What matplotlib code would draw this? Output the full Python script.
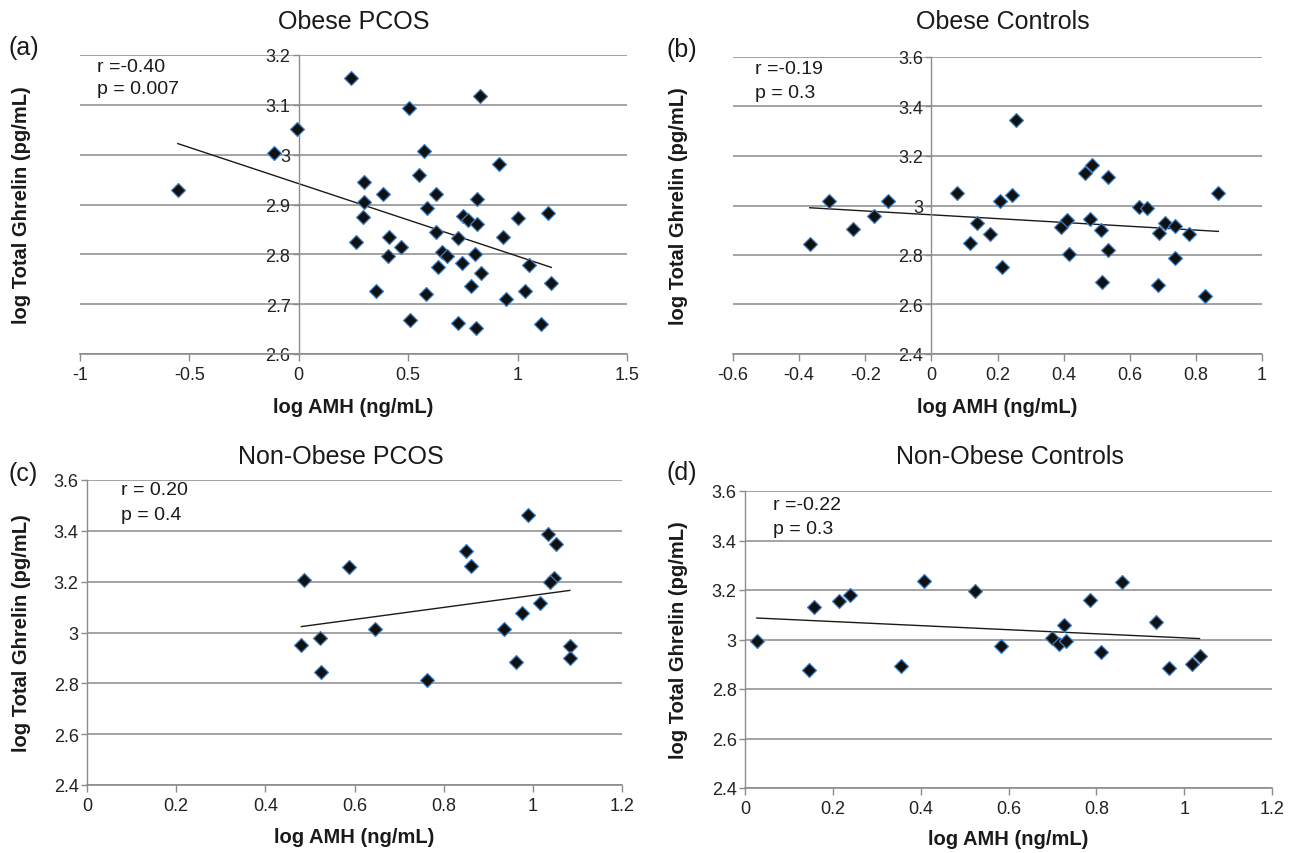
import numpy as np
import matplotlib
matplotlib.use("Agg")
import matplotlib.pyplot as plt
from matplotlib.ticker import FuncFormatter, MultipleLocator

plt.rcParams['font.family'] = ['Liberation Sans', 'DejaVu Sans']

# ---------------- data ----------------
titles = ["Obese PCOS", "Obese Controls", "Non-Obese PCOS", "Non-Obese Controls"]
panel_tags = ["(a)", "(b)", "(c)", "(d)"]
stats_r = ["r =-0.40", "r =-0.19", "r = 0.20", "r =-0.22"]
stats_p = ["p = 0.007", "p = 0.3", "p = 0.4", "p = 0.3"]
x_label = "log AMH (ng/mL)"
y_label = "log Total Ghrelin (pg/mL)"

a_x = [-0.553, -0.115, -0.007, 0.240, 0.503, 0.826, 0.572, 0.914, 0.549, 0.300,
       0.387, 0.629, 0.815, 0.298, 0.585, 1.139, 0.749, 0.775, 0.815, 1.000,
       0.292, 0.625, 0.411, 0.933, 0.726, 0.263, 0.465, 0.655, 0.678, 0.804,
       0.406, 0.745, 1.053, 0.638, 0.832, 1.154, 0.785, 0.351, 1.034, 0.583,
       0.947, 0.507, 0.728, 0.811, 1.106]
a_y = [2.930, 3.003, 3.051, 3.154, 3.093, 3.117, 3.007, 2.981, 2.959, 2.946,
       2.921, 2.922, 2.911, 2.906, 2.892, 2.882, 2.877, 2.868, 2.861, 2.873,
       2.875, 2.845, 2.835, 2.835, 2.832, 2.825, 2.814, 2.804, 2.796, 2.800,
       2.796, 2.782, 2.778, 2.774, 2.763, 2.742, 2.736, 2.726, 2.727, 2.720,
       2.710, 2.668, 2.662, 2.652, 2.660]

b_x = [-0.368, -0.310, -0.237, -0.175, -0.130, 0.078, 0.116, 0.138, 0.178, 0.208,
       0.213, 0.245, 0.255, 0.392, 0.410, 0.417, 0.466, 0.485, 0.480, 0.514,
       0.515, 0.535, 0.535, 0.629, 0.653, 0.689, 0.684, 0.708, 0.736, 0.736,
       0.778, 0.827, 0.868]
b_y = [2.846, 3.019, 2.904, 2.959, 3.020, 3.049, 2.847, 2.931, 2.886, 3.020,
       2.750, 3.042, 3.346, 2.914, 2.943, 2.804, 3.132, 3.165, 2.947, 2.903,
       2.691, 3.115, 2.822, 2.992, 2.989, 2.888, 2.680, 2.931, 2.918, 2.788,
       2.886, 2.635, 3.051]

c_x = [0.486, 0.481, 0.522, 0.524, 0.587, 0.646, 0.763, 0.850, 0.862, 0.936,
       0.963, 0.975, 0.990, 1.016, 1.033, 1.052, 1.048, 1.038, 1.083, 1.083]
c_y = [3.207, 2.952, 2.979, 2.844, 3.258, 3.014, 2.815, 3.319, 3.260, 3.014,
       2.884, 3.075, 3.461, 3.117, 3.389, 3.349, 3.215, 3.198, 2.948, 2.898]

d_x = [0.027, 0.146, 0.157, 0.215, 0.238, 0.356, 0.407, 0.524, 0.582, 0.698,
       0.714, 0.726, 0.731, 0.786, 0.811, 0.859, 0.936, 0.965, 1.018, 1.035]
d_y = [2.992, 2.876, 3.132, 3.157, 3.179, 2.891, 3.235, 3.196, 2.973, 3.005,
       2.980, 3.058, 2.992, 3.161, 2.949, 3.234, 3.069, 2.886, 2.899, 2.933]

xs = [a_x, b_x, c_x, d_x]
ys = [a_y, b_y, c_y, d_y]

x_limits = [(-1, 1.5), (-0.6, 1.0), (0, 1.2), (0, 1.2)]
x_steps = [0.5, 0.2, 0.2, 0.2]
y_limits = [(2.6, 3.2), (2.4, 3.6), (2.4, 3.6), (2.4, 3.6)]
y_steps = [0.1, 0.2, 0.2, 0.2]

# ---------------- layout (pixels) ----------------
W, H = 1296, 854
plot_boxes = [(80, 56, 627, 355), (733, 58, 1262, 355),
              (87, 481, 622, 786), (745, 492, 1272, 789)]
title_pos = [(354, 22), (1003, 22), (341, 457), (1010, 457)]
tag_pos = [(8, 48), (667, 50), (8, 474), (667, 473)]
r_pos = [(97, 67), (755, 69), (121, 491), (773, 506)]
p_pos = [(97, 90), (755, 93), (121, 515), (773, 530)]
ylab_x = [22, 678, 22, 678]
xlab_y = [408, 408, 838, 840]

grid_col = '#a3a3a3'
axis_col = '#8c8c8c'

fig = plt.figure(figsize=(W / 100, H / 100), dpi=100)


def fx(px):
    return px / W


def fy(py):
    return 1 - py / H


fmt = FuncFormatter(lambda v, pos: ('%g' % round(v, 6)))

for i in range(4):
    l, t, r, b = plot_boxes[i]
    ax = fig.add_axes([fx(l), fy(b), fx(r - l), (b - t) / H])
    x = np.array(xs[i])
    y = np.array(ys[i])
    ax.set_xlim(*x_limits[i])
    ax.set_ylim(*y_limits[i])
    ax.xaxis.set_major_locator(MultipleLocator(x_steps[i]))
    ax.yaxis.set_major_locator(MultipleLocator(y_steps[i]))
    ax.xaxis.set_major_formatter(fmt)
    ax.yaxis.set_major_formatter(fmt)
    ax.yaxis.grid(True, color=grid_col, lw=1.4, zorder=0)
    ax.set_axisbelow(True)
    for s in ['top', 'right']:
        ax.spines[s].set_visible(False)
    ax.spines['left'].set_position(('data', 0))
    ax.spines['left'].set_color(axis_col)
    ax.spines['bottom'].set_color(axis_col)
    ax.spines['left'].set_linewidth(1.0)
    ax.spines['bottom'].set_linewidth(1.2)
    ax.tick_params(axis='both', colors=axis_col, labelcolor='#222222',
                   labelsize=13, direction='out', length=5, width=1)
    ax.tick_params(axis='x', pad=4)
    ax.tick_params(axis='y', pad=2, length=4)

    # trendline (least squares from the data)
    k, c0 = np.polyfit(x, y, 1)
    xx = np.array([x.min(), x.max()])
    ax.plot(xx, k * xx + c0, color='#1a1a1a', lw=1.0, zorder=2)

    ax.plot(x, y, linestyle='none', marker='D', ms=6.8, mfc='#111111',
            mec='#3f7fc4', mew=0.9, zorder=3)

    fig.text(fx(title_pos[i][0]), fy(title_pos[i][1]), titles[i], ha='center',
             va='center', fontsize=18, color='#1a1a1a')
    fig.text(fx(tag_pos[i][0]), fy(tag_pos[i][1]), panel_tags[i], ha='left',
             va='center', fontsize=18, color='#1a1a1a')
    fig.text(fx(r_pos[i][0]), fy(r_pos[i][1]), stats_r[i], ha='left',
             va='center', fontsize=14, color='#1a1a1a')
    fig.text(fx(p_pos[i][0]), fy(p_pos[i][1]), stats_p[i], ha='left',
             va='center', fontsize=14, color='#1a1a1a')
    fig.text(fx(ylab_x[i]), fy((t + b) / 2), y_label, rotation=90, ha='center',
             va='center', fontsize=14.5, fontweight='bold', color='#1a1a1a')
    fig.text(fx((l + r) / 2), fy(xlab_y[i]), x_label, ha='center',
             va='center', fontsize=14.5, fontweight='bold', color='#1a1a1a')

fig.savefig('out.png', dpi=100)
